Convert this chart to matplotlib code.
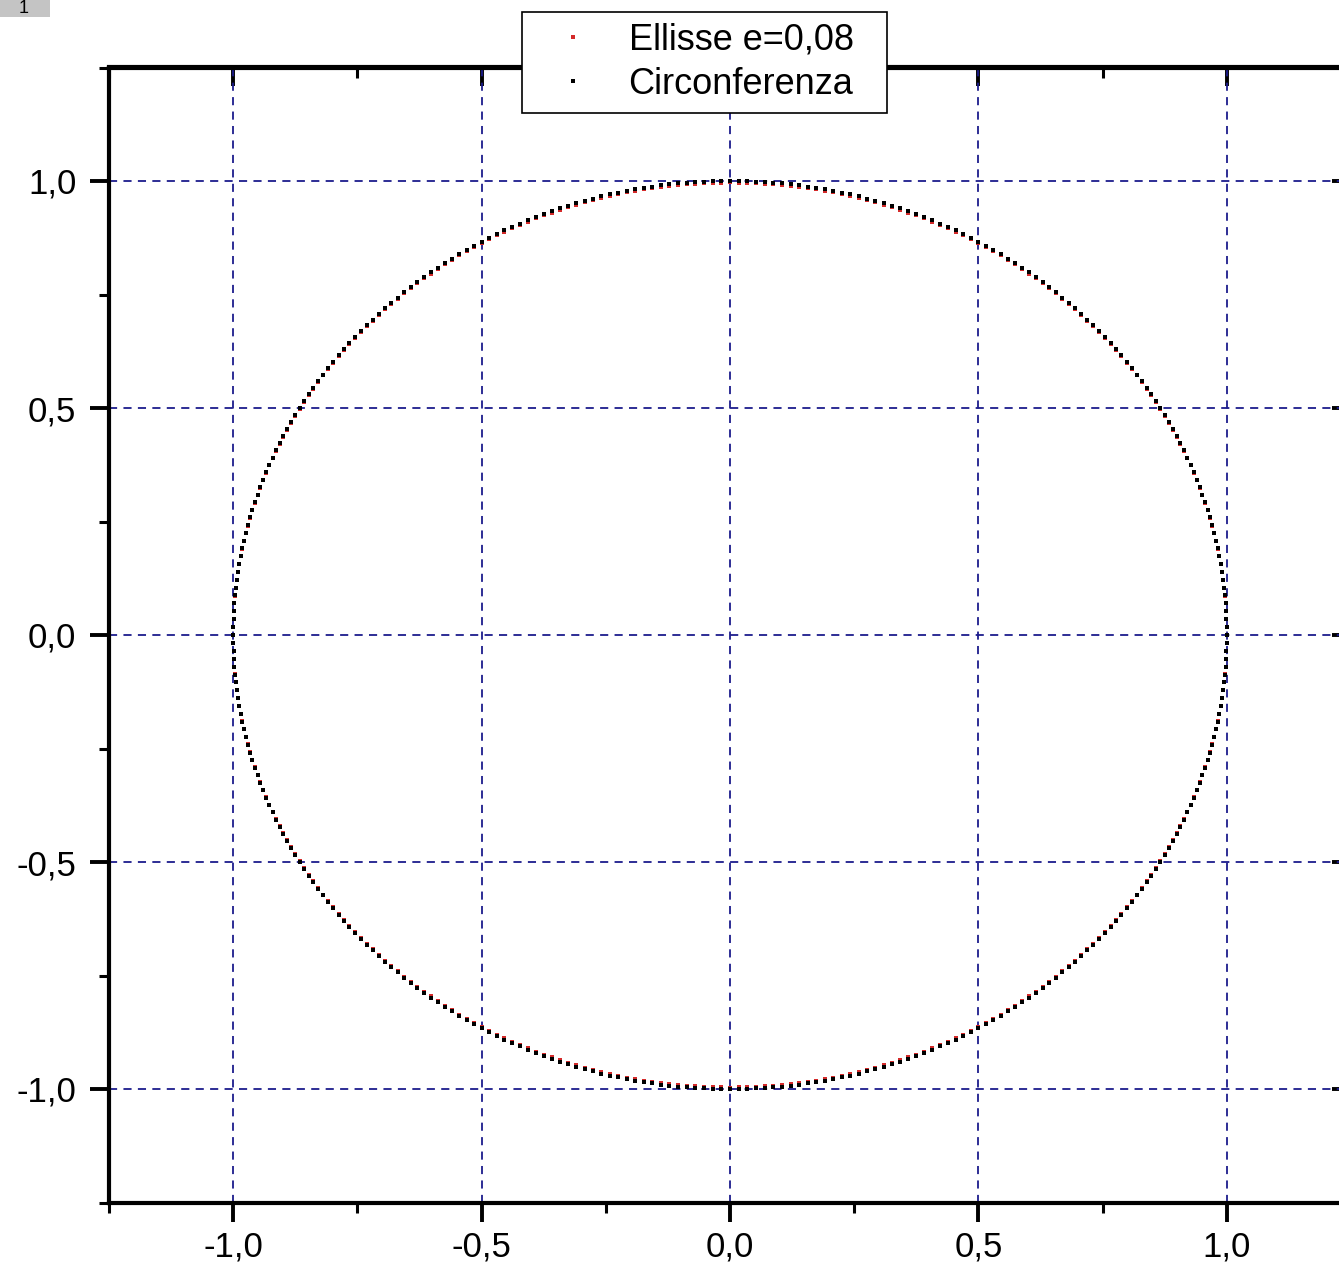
import numpy as np
import matplotlib.pyplot as plt
from matplotlib.patches import Rectangle

# ── data ─────────────────────────────────────────────
ECC = 0.08                       # eccentricita' dell'ellisse
SEMI_MAJOR = 1.0
RADIUS = 1.0
angles_deg = np.arange(0, 360, 1)   # one sample per degree

major_ticks = [-1.0, -0.5, 0.0, 0.5, 1.0]
minor_ticks = [-1.25, -0.75, -0.25, 0.25, 0.75, 1.25]
tick_labels = ["-1,0", "-0,5", "0,0", "0,5", "1,0"]

labels = ["Ellisse e=0,08", "Circonferenza"]
colors = ["#d42a2a", "black"]

semi_minor = SEMI_MAJOR * np.sqrt(1 - ECC ** 2)
t = np.deg2rad(angles_deg)
ell_x, ell_y = SEMI_MAJOR * np.cos(t), semi_minor * np.sin(t)
circ_x, circ_y = RADIUS * np.cos(t), RADIUS * np.sin(t)

# ── figure ───────────────────────────────────────────
plt.rcParams['font.family'] = ['Liberation Sans', 'DejaVu Sans']
W, H = 1339, 1267
fig = plt.figure(figsize=(W / 100, H / 100), dpi=100)
ax = fig.add_axes([109 / W, 64.5 / H, (1351 - 109) / W, 1135 / H])

ax.plot(ell_x, ell_y, ls='none', marker='s', ms=2.8, mew=0, color=colors[0], label=labels[0])
ax.plot(circ_x, circ_y, ls='none', marker='s', ms=2.6, mew=0, color=colors[1], label=labels[1])

ax.set_xlim(-1.25, 1.25)
ax.set_ylim(-1.25, 1.25)

ax.set_xticks(major_ticks)
ax.set_xticks(minor_ticks, minor=True)
ax.set_yticks(major_ticks)
ax.set_yticks(minor_ticks, minor=True)
ax.set_xticklabels(tick_labels)
ax.set_yticklabels(tick_labels)

ax.tick_params(which='major', direction='out', length=13.5, width=2.8, labelsize=25)
ax.tick_params(which='minor', direction='out', length=7, width=2.2)
ax.tick_params(axis='x', which='major', pad=7)
ax.tick_params(axis='y', which='major', pad=10)
for sp in ax.spines.values():
    sp.set_linewidth(3.0)

# top / right ticks point inward
sec_x = ax.secondary_xaxis('top')
sec_x.set_xticks(major_ticks)
sec_x.set_xticks(minor_ticks, minor=True)
sec_x.tick_params(which='major', direction='in', length=14, width=2.8, labeltop=False)
sec_x.tick_params(which='minor', direction='in', length=8, width=2.2)
sec_x.spines['top'].set_linewidth(3.0)
sec_y = ax.secondary_yaxis('right')
sec_y.set_yticks(major_ticks)
sec_y.set_yticks(minor_ticks, minor=True)
sec_y.tick_params(which='major', direction='in', length=14, width=2.8, labelright=False)
sec_y.tick_params(which='minor', direction='in', length=8, width=2.2)
sec_y.spines['right'].set_linewidth(3.0)

ax.grid(True, which='major', color='#1c1c8c', linestyle=(0, (4.5, 3.5)), linewidth=1.3)
ax.set_axisbelow(True)

leg = ax.legend(loc='upper left',
                bbox_to_anchor=(522 / W, 1 - 115 / H, (887 - 522) / W, 103 / H),
                bbox_transform=fig.transFigure, mode='expand', borderaxespad=0,
                fontsize=26, handlelength=2.2, handletextpad=0.45, borderpad=0.3,
                labelspacing=0.25, markerscale=1.0, fancybox=False,
                framealpha=1, edgecolor='black')
leg.get_frame().set_linewidth(1.2)

# small layer tab in the corner
fig.patches.append(Rectangle((0, 1 - 17 / H), 50 / W, 17 / H, transform=fig.transFigure,
                             facecolor='#c4c4c4', edgecolor='none'))
fig.text(24 / W, 1 - 8.5 / H, "1", fontsize=13, ha='center', va='center', color='black')

fig.savefig('out.png', dpi=100)
